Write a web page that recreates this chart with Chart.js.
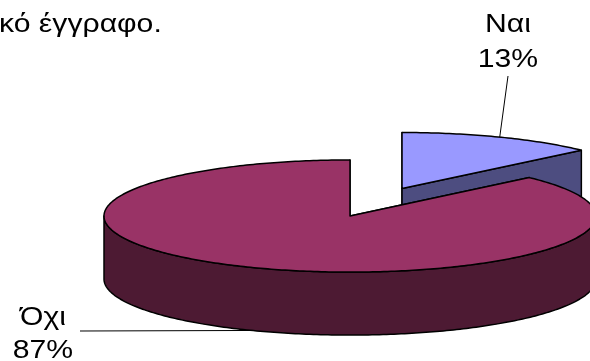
<!DOCTYPE html>
<html>
<head>
<meta charset="utf-8">
<script src="https://cdn.jsdelivr.net/npm/chart.js@4"></script>
<style>
html, body { margin: 0; padding: 0; background: #fff; }
canvas { display: block; }
</style>
</head>
<body>
<canvas id="chart" width="590" height="361"></canvas>
<script>
// données
const categories = ['Ναι', 'Όχι'];
const values = [13, 87];
const titleText = 'κό έγγραφο.';

// styles
const topColors = ['#9999ff', '#993366'];
const sideColors = ['#4d4d80', '#4d1a33'];
const TILT = 0.228;   // aplatissement de l'ellipse
const DEPTH = 63;     // épaisseur du camembert
const STRETCH = 1.16; // le texte de l'original est un peu étiré
const FONT = '"Liberation Sans", Arial, sans-serif';

// position des étiquettes (texte + point de départ du trait)
const labelSpots = [
  { x: 508, y1: 32, y2: 67, lineX: 508, lineY: 76, onBottom: false },
  { x: 43, y1: 325, y2: 358, lineX: 80, lineY: 331, onBottom: true }
];

function project(s, ang, r, dz) {
  return [s.cx + r * Math.cos(ang), s.cy + r * Math.sin(ang) * TILT + dz];
}

function arcPoints(s, a1, a2, dz) {
  const pts = [];
  const n = Math.max(2, Math.ceil(Math.abs(a2 - a1) / 0.015));
  for (let i = 0; i <= n; i++) {
    pts.push(project(s, a1 + (a2 - a1) * i / n, s.r, dz));
  }
  return pts;
}

function drawPoly(ctx, pts, fill) {
  ctx.beginPath();
  pts.forEach((p, i) => i ? ctx.lineTo(p[0], p[1]) : ctx.moveTo(p[0], p[1]));
  ctx.closePath();
  ctx.fillStyle = fill;
  ctx.fill();
  ctx.stroke();
}

function getSlices(chart) {
  const meta = chart.getDatasetMeta(0);
  return meta.data.map((el, i) => {
    const mid = (el.startAngle + el.endAngle) / 2;
    const off = el.options.offset || 0;
    return {
      i: i,
      start: el.startAngle,
      end: el.endAngle,
      mid: mid,
      r: el.outerRadius,
      cx: el.x + Math.cos(mid) * off,
      cy: el.y + Math.sin(mid) * off * TILT
    };
  });
}

function stretchText(ctx, txt, x, y, align) {
  ctx.save();
  ctx.translate(x, y);
  ctx.scale(STRETCH, 1);
  ctx.textAlign = align;
  ctx.fillText(txt, 0, 0);
  ctx.restore();
}

const pie3d = {
  id: 'pie3d',
  beforeDatasetsDraw(chart) {
    const ctx = chart.ctx;
    const slices = getSlices(chart).sort((a, b) => Math.sin(a.mid) - Math.sin(b.mid));
    ctx.save();
    ctx.strokeStyle = '#000';
    ctx.lineWidth = 1.5;
    ctx.lineJoin = 'round';
    slices.forEach(s => {
      const side = sideColors[s.i];
      // faces radiales
      [s.start, s.end].forEach(a => {
        const e0 = project(s, a, s.r, 0);
        const e1 = project(s, a, s.r, DEPTH);
        drawPoly(ctx, [[s.cx, s.cy], e0, e1, [s.cx, s.cy + DEPTH]], side);
      });
      // paroi extérieure (partie avant)
      [-2 * Math.PI, 0, 2 * Math.PI].forEach(k => {
        const a1 = Math.max(s.start, k);
        const a2 = Math.min(s.end, k + Math.PI);
        if (a2 > a1) {
          const top = arcPoints(s, a1, a2, 0);
          const bot = arcPoints(s, a2, a1, DEPTH);
          drawPoly(ctx, top.concat(bot), side);
        }
      });
      // dessus
      drawPoly(ctx, [[s.cx, s.cy]].concat(arcPoints(s, s.start, s.end, 0)), topColors[s.i]);
    });
    ctx.restore();
    return false;
  },
  afterDraw(chart) {
    const ctx = chart.ctx;
    const total = values.reduce((a, b) => a + b, 0);
    const slices = getSlices(chart);
    ctx.save();
    ctx.fillStyle = '#000';
    ctx.textBaseline = 'alphabetic';
    ctx.font = '26px ' + FONT;
    stretchText(ctx, titleText, -1, 32, 'left');

    ctx.font = '26px ' + FONT;
    slices.forEach(s => {
      const spot = labelSpots[s.i];
      const pct = Math.round(values[s.i] / total * 100) + '%';
      stretchText(ctx, categories[s.i], spot.x, spot.y1, 'center');
      stretchText(ctx, pct, spot.x, spot.y2, 'center');
      const end = project(s, s.mid, s.r, spot.onBottom ? DEPTH : 0);
      ctx.beginPath();
      ctx.strokeStyle = '#000';
      ctx.lineWidth = 1;
      ctx.moveTo(spot.lineX, spot.lineY);
      ctx.lineTo(end[0], end[1]);
      ctx.stroke();
    });
    ctx.restore();
  }
};

new Chart(document.getElementById('chart'), {
  type: 'pie',
  data: {
    labels: categories,
    datasets: [{
      data: values,
      backgroundColor: topColors,
      borderWidth: 0,
      offset: [131, 0]
    }]
  },
  options: {
    responsive: false,
    animation: false,
    radius: 246,
    layout: { padding: { left: 110, top: 71 } },
    plugins: {
      legend: { display: false },
      tooltip: { enabled: false }
    }
  },
  plugins: [pie3d]
});
</script>
</body>
</html>
